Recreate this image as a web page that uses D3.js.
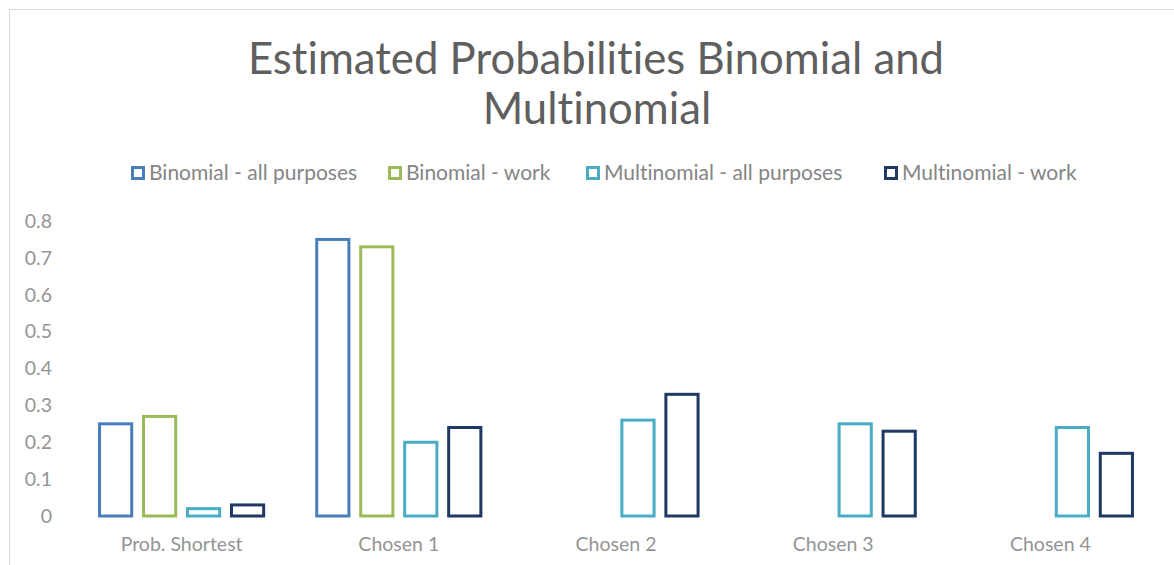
<!DOCTYPE html>
<html>
<head>
<meta charset="utf-8">
<script src="https://cdn.jsdelivr.net/npm/d3@7"></script>
<style>
  html, body { margin: 0; padding: 0; background: #fff; }
  svg { display: block; }
  text { font-family: Lato, "Open Sans", sans-serif; font-variant-ligatures: none; }
</style>
</head>
<body>
<svg id="chart" width="1174" height="565"></svg>
<script>
// Chart data
const categories = ["Prob. Shortest", "Chosen 1", "Chosen 2", "Chosen 3", "Chosen 4"];
const seriesNames = ["Binomial - all purposes", "Binomial - work", "Multinomial - all purposes", "Multinomial - work"];
const binomialAll = [0.25, 0.75, null, null, null];
const binomialWork = [0.27, 0.73, null, null, null];
const multinomialAll = [0.02, 0.20, 0.26, 0.25, 0.24];
const multinomialWork = [0.03, 0.24, 0.33, 0.23, 0.17];
const yTicks = [0, 0.1, 0.2, 0.3, 0.4, 0.5, 0.6, 0.7, 0.8];
const titleLines = ["Estimated Probabilities Binomial and", "Multinomial"];

const seriesValues = [binomialAll, binomialWork, multinomialAll, multinomialWork];
const colors = ["#4a7ebb", "#9bbb59", "#4bacc6", "#1f3864"];

const svg = d3.select("#chart");
const W = 1174, H = 565;

// outer chart frame
svg.append("rect")
  .attr("x", 9.5).attr("y", 9.5)
  .attr("width", W + 20).attr("height", H + 20)
  .attr("fill", "#fff").attr("stroke", "#d9d9d9").attr("stroke-width", 1);

// fit a text element to a given width by adjusting its font size
function fitWidth(sel, width) {
  const node = sel.node();
  const fs = parseFloat(sel.attr("font-size"));
  const len = node.getComputedTextLength();
  sel.attr("font-size", (fs * width / len).toFixed(2));
}

// title
const title = svg.append("g").attr("fill", "#5f5f5f");
const t1 = title.append("text").attr("x", 596).attr("y", 74)
  .attr("text-anchor", "middle").attr("font-size", 40).text(titleLines[0]);
fitWidth(t1, 696);
title.append("text").attr("x", 597).attr("y", 124)
  .attr("text-anchor", "middle").attr("font-size", t1.attr("font-size")).text(titleLines[1]);

// scales
const x0 = d3.scaleBand().domain(categories).range([73, 1159])
  .paddingInner(0.19).paddingOuter(0.095);
const x1 = d3.scaleBand().domain(d3.range(seriesNames.length))
  .range([0, x0.bandwidth()]).paddingInner(0.2).paddingOuter(0.1);
const y = d3.scaleLinear().domain([0, 0.8]).range([516, 221]);

const axisFont = "Lato, 'Open Sans', sans-serif";

// y axis (labels only)
const yAxis = d3.axisLeft(y).tickValues(yTicks).tickSize(0).tickPadding(0)
  .tickFormat(d => d === 0 ? "0" : d3.format(".1f")(d));
const gy = svg.append("g").attr("transform", "translate(52,0)").call(yAxis);
gy.select(".domain").remove();
gy.selectAll("text").attr("fill", "#949494").attr("font-size", 19.5)
  .attr("font-family", axisFont);

// x axis (labels only)
const xAxis = d3.axisBottom(x0).tickSize(0).tickPadding(0);
const gx = svg.append("g").attr("transform", "translate(0,537)").call(xAxis);
gx.select(".domain").remove();
gx.selectAll("text").attr("fill", "#949494").attr("font-size", 19.5)
  .attr("font-family", axisFont);

// bars (outlined)
const sw = 3;
const groups = svg.append("g").selectAll("g")
  .data(categories).join("g")
  .attr("transform", d => `translate(${x0(d)},0)`);

groups.selectAll("rect")
  .data((c, ci) => seriesValues.map((vals, si) => ({ si, v: vals[ci] })).filter(d => d.v != null))
  .join("rect")
  .attr("x", d => x1(d.si) + sw / 2)
  .attr("width", x1.bandwidth() - sw)
  .attr("y", d => y(d.v))
  .attr("height", d => y(0) - y(d.v))
  .attr("fill", "#fff")
  .attr("stroke", d => colors[d.si])
  .attr("stroke-width", sw);

// legend
const legendX = [131, 388, 586, 884];
const legend = svg.append("g").selectAll("g")
  .data(seriesNames).join("g")
  .attr("transform", (d, i) => `translate(${legendX[i]},166)`);
legend.append("rect")
  .attr("x", 1.5).attr("y", 1.5).attr("width", 11).attr("height", 11)
  .attr("fill", "#fff").attr("stroke", (d, i) => colors[i]).attr("stroke-width", 3);
legend.append("text")
  .attr("x", 18).attr("y", 14)
  .attr("fill", "#858585").attr("font-size", 21)
  .text(d => d);
</script>
</body>
</html>
